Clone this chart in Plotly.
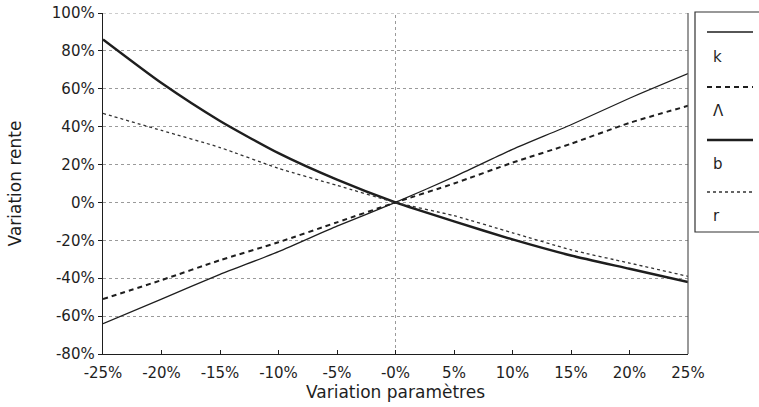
import plotly.graph_objects as go

# ---- data ----
x_pct = [-25, -20, -15, -10, -5, 0, 5, 10, 15, 20, 25]
x_ticktext = ["-25%", "-20%", "-15%", "-10%", "-5%", "-0%", "5%", "10%", "15%", "20%", "25%"]
k_vals = [-64, -51, -38, -26, -12.5, 0, 13.5, 28, 41, 55, 68]
lam_vals = [-51, -41, -30.5, -21, -10.5, 0, 10, 21, 31, 42, 51]
b_vals = [86, 63, 43, 26, 12, 0, -10, -19.5, -28, -35, -42]
r_vals = [47, 38, 29, 18, 9, 0, -7, -16, -25, -32, -39]
y_ticks = [-80, -60, -40, -20, 0, 20, 40, 60, 80, 100]
y_ticktext = ["-80%", "-60%", "-40%", "-20%", "0%", "20%", "40%", "60%", "80%", "100%"]
series_names = ["k", "\u039b", "b", "r"]

W, H = 759, 407
L, R, T, B = 103, 688, 13, 354  # plot area in window pixels


def px(xp):
    return (xp - L) / (R - L)


def py(yp):
    return (B - yp) / (B - T)


FONT = "DejaVu Sans, Verdana, sans-serif"
INK = "#1e1e1e"
GRID = "#9a9a9a"
TICK_SIZE = 15
TITLE_SIZE = 17

styles = [
    dict(color=INK, width=1.3, dash="solid"),
    dict(color=INK, width=2.0, dash="5px,4px"),
    dict(color=INK, width=2.4, dash="solid"),
    dict(color="#333333", width=1.3, dash="dot"),
]

fig = go.Figure()
for name, vals, st in zip(series_names, [k_vals, lam_vals, b_vals, r_vals], styles):
    fig.add_trace(go.Scatter(x=x_pct, y=vals, mode="lines", name=name,
                             line=dict(color=st["color"], width=st["width"], dash=st["dash"],
                                       shape="spline", smoothing=0.6),
                             showlegend=False, hoverinfo="skip"))

shapes = []
# vertical dotted line at 0 and top dotted line at 100%
shapes.append(dict(type="line", xref="x", yref="y", x0=0, x1=0, y0=-80, y1=100,
                   line=dict(color=GRID, width=1, dash="dot"), layer="below"))
shapes.append(dict(type="line", xref="x", yref="y", x0=-25, x1=25, y0=100, y1=100,
                   line=dict(color=GRID, width=1, dash="dot"), layer="below"))
# right border
shapes.append(dict(type="line", xref="paper", yref="paper", x0=1, x1=1, y0=0, y1=1,
                   line=dict(color="#555555", width=1.2)))

# legend box (manual, as in reference: sample line above each label)
shapes.append(dict(type="rect", xref="paper", yref="paper",
                   x0=px(695), x1=px(770), y0=py(232), y1=py(12),
                   line=dict(color="#333333", width=1.2), fillcolor="white"))
legend_line_y = [32, 87, 140, 192]
legend_text_y = [57, 111, 164, 216]
annotations = []
for name, st, ly, ty in zip(series_names, styles, legend_line_y, legend_text_y):
    shapes.append(dict(type="line", xref="paper", yref="paper",
                       x0=px(707), x1=px(753), y0=py(ly), y1=py(ly),
                       line=dict(color=st["color"], width=st["width"], dash=st["dash"])))
    annotations.append(dict(xref="paper", yref="paper", x=px(711), y=py(ty), text=name,
                            showarrow=False, xanchor="left", yanchor="middle",
                            font=dict(family=FONT, size=TICK_SIZE, color=INK)))

fig.update_layout(
    width=W, height=H,
    margin=dict(l=L, r=W - R, t=T, b=H - B, pad=0, autoexpand=False),
    paper_bgcolor="white", plot_bgcolor="white",
    font=dict(family=FONT, size=TICK_SIZE, color=INK),
    shapes=shapes, annotations=annotations,
    hovermode=False,
)
fig.update_xaxes(range=[-25, 25], tickvals=x_pct, ticktext=x_ticktext,
                 showgrid=False, zeroline=False, automargin=False,
                 showline=True, linecolor=INK, linewidth=1.3,
                 ticks="inside", ticklen=4, tickcolor=INK, ticklabelstandoff=5,
                 title=dict(text="Variation param\u00e8tres", font=dict(size=TITLE_SIZE), standoff=2),
                 tickfont=dict(size=TICK_SIZE))
fig.update_yaxes(range=[-80, 100], tickvals=y_ticks, ticktext=y_ticktext,
                 showgrid=True, gridcolor=GRID, griddash="dot", gridwidth=1,
                 zeroline=False, automargin=False,
                 showline=True, linecolor=INK, linewidth=1.3,
                 ticks="outside", ticklen=4, tickcolor=INK,
                 title=dict(text="Variation rente", font=dict(size=TITLE_SIZE), standoff=26),
                 tickfont=dict(size=TICK_SIZE))

fig.write_html("out.html", config={"displayModeBar": False, "staticPlot": True},
               post_script="document.body.style.margin='0px';")
